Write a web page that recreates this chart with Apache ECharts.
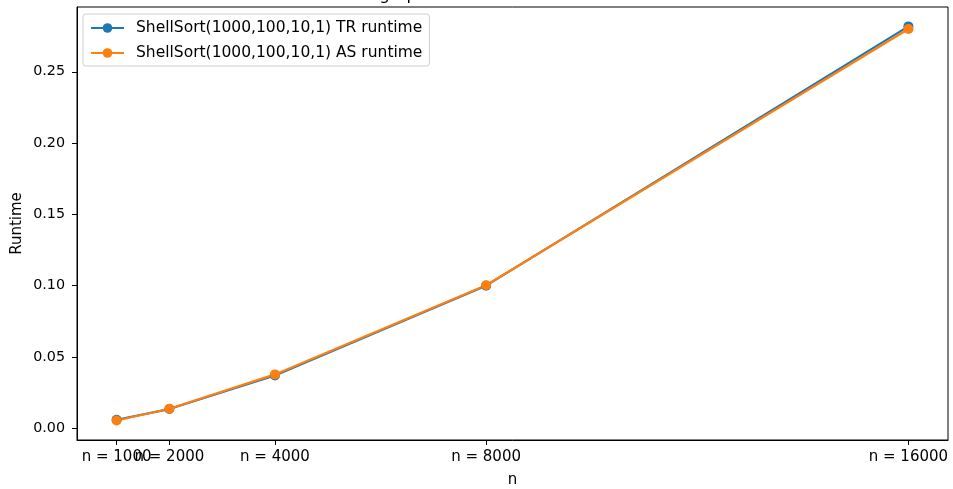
<!DOCTYPE html>
<html>
<head>
<meta charset="utf-8">
<script src="https://cdn.jsdelivr.net/npm/echarts@6/dist/echarts.min.js"></script>
<style>
html,body{margin:0;padding:0;background:#fff;}
#chart{width:953px;height:489px;}
</style>
</head>
<body>
<div id="chart"></div>
<script>
// ---- data ----
const nValues = [1000, 2000, 4000, 8000, 16000];
const tickLabels = ["n = 1000", "n = 2000", "n = 4000", "n = 8000", "n = 16000"];
const trRuntime = [0.0060, 0.0135, 0.0370, 0.1000, 0.2818];
const asRuntime = [0.0055, 0.0137, 0.0378, 0.1003, 0.2800];
const yTicks = [0, 0.05, 0.10, 0.15, 0.20, 0.25];
const seriesNames = ["ShellSort(1000,100,10,1) TR runtime", "ShellSort(1000,100,10,1) AS runtime"];
const titleText = "Runtime graph for ShellSort TR and AS";

const FONT = "DejaVu Sans";
const chart = echarts.init(document.getElementById('chart'), null, {renderer: 'canvas'});

function pairs(xs, ys) { return xs.map((x, i) => [x, ys[i]]); }

const labelMap = {};
nValues.forEach((v, i) => { labelMap[v] = tickLabels[i]; });
// ticks split over two overlapping axes so neighbouring labels are not auto-hidden
const ticksA = nValues.filter((v, i) => i % 2 === 0);
const ticksB = nValues.filter((v, i) => i % 2 === 1);

function xAxisDef(vals, showLine, withName) {
  return {
    type: 'value', min: 250, max: 16750, position: 'bottom', offset: 0,
    name: withName ? 'n' : '', nameLocation: 'middle', nameGap: 33,
    nameTextStyle: {fontFamily: FONT, fontSize: 15, color: '#000'},
    axisLine: {show: showLine, onZero: false, lineStyle: {color: '#000', width: 1}},
    axisTick: {show: true, inside: false, length: 5, lineStyle: {color: '#000', width: 1}, customValues: vals},
    axisLabel: {show: true, margin: 10, hideOverlap: false, showMinLabel: true, showMaxLabel: true,
      fontFamily: FONT, fontSize: 15, color: '#000', customValues: vals,
      formatter: v => labelMap[v] || ''},
    splitLine: {show: false}
  };
}

chart.setOption({
  animation: false,
  backgroundColor: '#fff',
  title: {
    text: titleText, left: 305, top: -13, padding: 0,
    textStyle: {fontFamily: FONT, fontSize: 16.5, fontWeight: 'normal', color: '#000'}
  },
  grid: {left: 77, right: 5, top: 7, bottom: 49, show: true, borderColor: '#000', borderWidth: 1,
         backgroundColor: 'transparent', outerBoundsMode: 'none', containLabel: false},
  legend: {
    orient: 'vertical', left: 83, top: 14,
    itemWidth: 33, itemHeight: 12, itemGap: 9,
    padding: [6, 7, 5, 7],
    backgroundColor: 'rgba(255,255,255,0.8)', borderColor: '#d0d0d0', borderWidth: 1, borderRadius: 3,
    textStyle: {fontFamily: FONT, fontSize: 15.5, color: '#000', lineHeight: 16, padding: [0, 0, 0, 7]},
    data: seriesNames
  },
  xAxis: [xAxisDef(ticksA, true, true), xAxisDef(ticksB, false, false)],
  yAxis: {
    type: 'value', min: -0.0082, max: 0.2954,
    name: 'Runtime', nameLocation: 'middle', nameGap: 52, nameRotate: 90, nameMoveOverlap: false,
    nameTextStyle: {fontFamily: FONT, fontSize: 15, color: '#000'},
    axisLine: {show: true, onZero: false, lineStyle: {color: '#000', width: 1}},
    axisTick: {show: true, inside: false, length: 5, lineStyle: {color: '#000', width: 1}, customValues: yTicks},
    axisLabel: {show: true, margin: 12, hideOverlap: false, showMinLabel: true, showMaxLabel: true,
      fontFamily: FONT, fontSize: 14.3, color: '#000', customValues: yTicks,
      formatter: v => v.toFixed(2)},
    splitLine: {show: false}
  },
  series: [
    {name: seriesNames[0], type: 'line', xAxisIndex: 0, data: pairs(nValues, trRuntime), symbol: 'circle', symbolSize: 10,
     color: '#1f77b4', lineStyle: {width: 2.2, color: '#1f77b4'}, itemStyle: {color: '#1f77b4'}},
    {name: seriesNames[1], type: 'line', xAxisIndex: 0, data: pairs(nValues, asRuntime), symbol: 'circle', symbolSize: 10,
     color: '#ff7f0e', lineStyle: {width: 2.2, color: '#ff7f0e'}, itemStyle: {color: '#ff7f0e'}}
  ]
});
</script>
</body>
</html>
